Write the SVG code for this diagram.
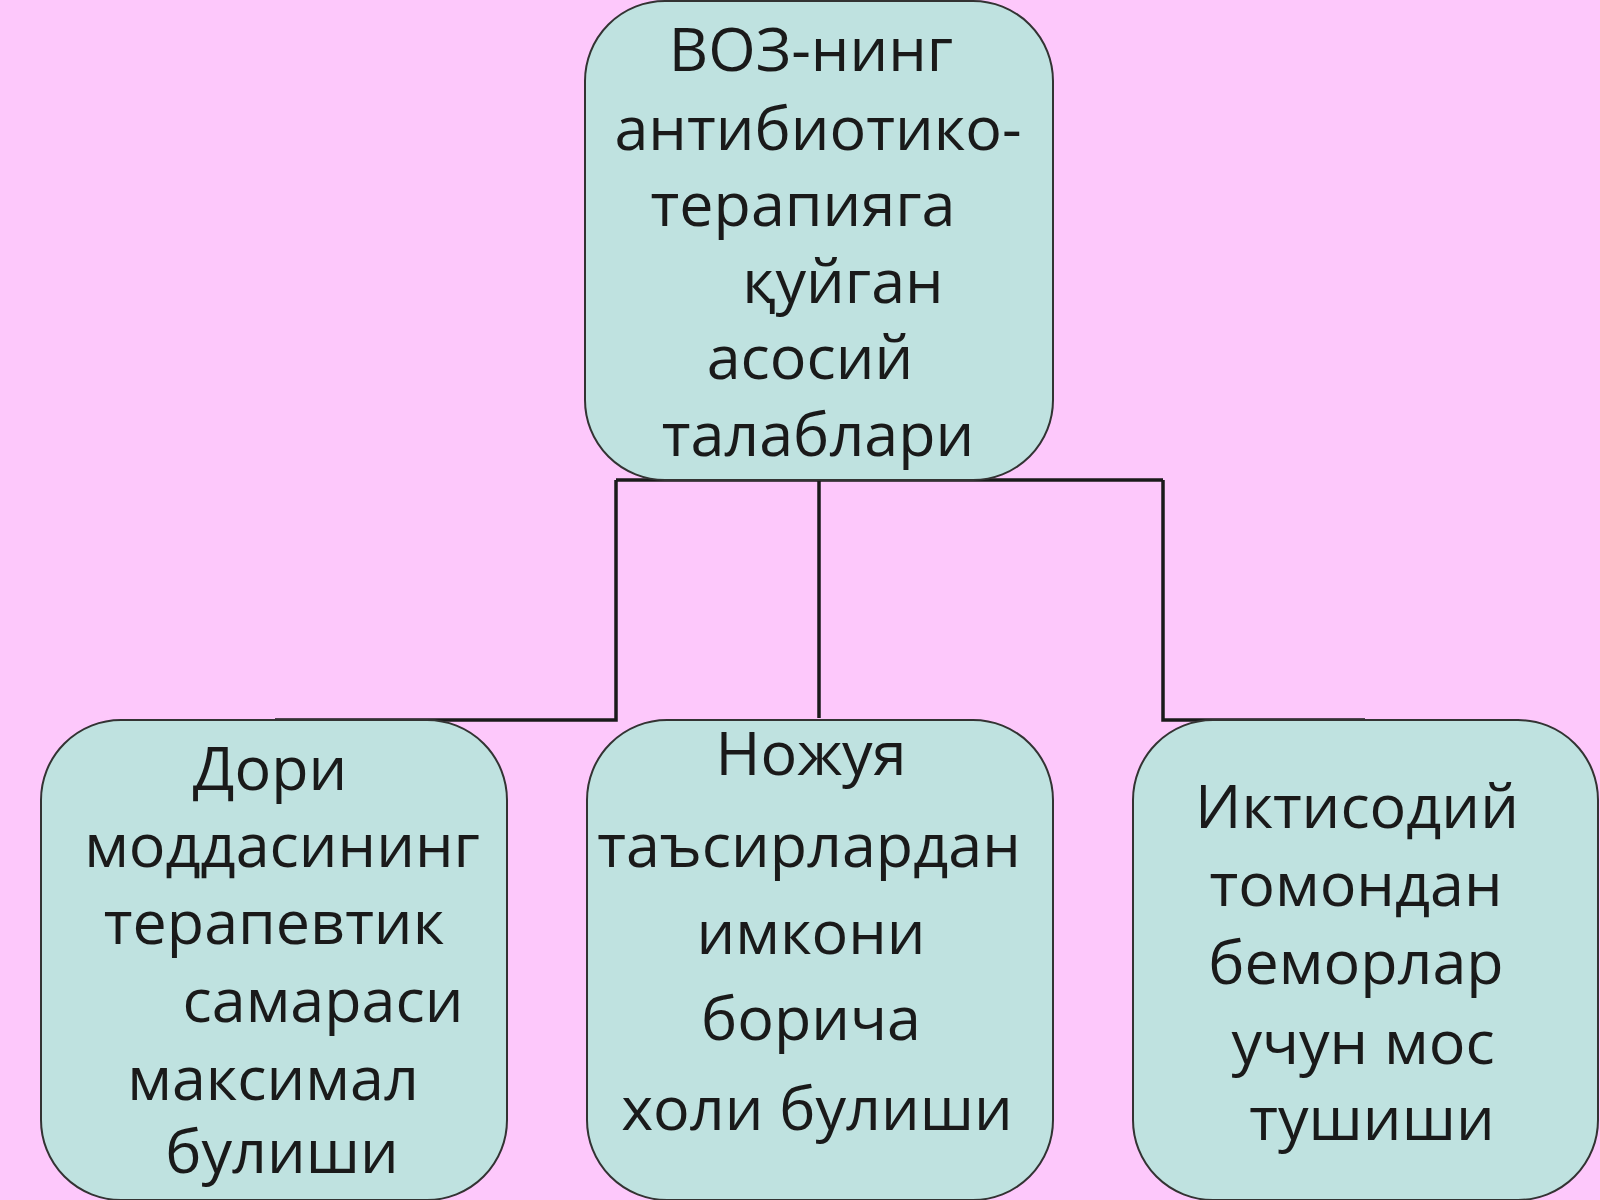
<svg xmlns="http://www.w3.org/2000/svg" width="1600" height="1200" viewBox="0 0 1600 1200">
<style>
.box{fill:#bfe2e0;stroke:#333;stroke-width:2}
.t{font-family:"Open Sans","Noto Sans",sans-serif;font-size:61px;fill:#1a1a1a;text-anchor:middle}
.c{stroke:#1a1a1a;stroke-width:3.5;fill:none}
</style>
<rect width="1600" height="1200" fill="#fdc8fb"/>
<g id="connectors">
<path class="c" d="M616 480H1163M616 480V720H275M819 480V718M1163 480V720H1365"/>
</g>
<g id="top">
<rect class="box" x="585" y="1" width="468" height="479" rx="80"/>
<text class="t" x="811" y="71">ВОЗ-нинг</text>
<text class="t" x="818" y="150">антибиотико-</text>
<text class="t" x="803" y="226">терапияга</text>
<text class="t" x="843" y="303">қуйган</text>
<text class="t" x="810" y="379">асосий</text>
<text class="t" x="818" y="456">талаблари</text>
</g>
<g id="left">
<rect class="box" x="41" y="720" width="466" height="480" rx="80"/>
<text class="t" x="270" y="790">Дори</text>
<text class="t" x="282" y="867">моддасининг</text>
<text class="t" x="274" y="944">терапевтик</text>
<text class="t" x="323" y="1022">самараси</text>
<text class="t" x="273" y="1100">максимал</text>
<text class="t" x="282" y="1173">булиши</text>
</g>
<g id="middle">
<rect class="box" x="587" y="720" width="466" height="480" rx="80"/>
<text class="t" x="811" y="775">Ножуя</text>
<text class="t" x="809" y="867">таъсирлардан</text>
<text class="t" x="811" y="954">имкони</text>
<text class="t" x="811" y="1040">борича</text>
<text class="t" x="817" y="1130">холи булиши</text>
</g>
<g id="right">
<rect class="box" x="1133" y="720" width="465" height="480" rx="80"/>
<text class="t" x="1357" y="828">Иктисодий</text>
<text class="t" x="1356" y="906">томондан</text>
<text class="t" x="1356" y="984">беморлар</text>
<text class="t" x="1363" y="1064">учун мос</text>
<text class="t" x="1372" y="1140">тушиши</text>
</g>
</svg>
